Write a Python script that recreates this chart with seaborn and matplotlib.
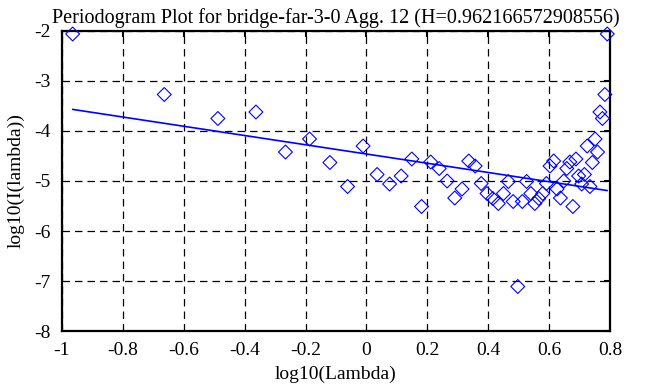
import numpy as np
import pandas as pd
import seaborn as sns
from matplotlib import pyplot as plt

title = 'Periodogram Plot for bridge-far-3-0 Agg. 12 (H=0.962166572908556)'
hurst = 0.962166572908556
fit_intercept = -4.46

log_lambda = [-0.965, -0.664, -0.488, -0.363, -0.266, -0.187, -0.120, -0.062,
              -0.011, 0.035, 0.076, 0.114, 0.149, 0.181, 0.211, 0.239,
              0.265, 0.290, 0.314, 0.336, 0.357, 0.377, 0.396, 0.415,
              0.433, 0.450, 0.466, 0.482, 0.497, 0.512, 0.526, 0.540,
              0.553, 0.566, 0.579, 0.591, 0.603, 0.615, 0.626, 0.637,
              0.648, 0.658, 0.668, 0.678, 0.688, 0.697, 0.707, 0.716,
              0.725, 0.734, 0.742, 0.751, 0.759, 0.767, 0.775, 0.783, 0.791]
log_power = [-2.06, -3.27, -3.75, -3.62, -4.42, -4.16, -4.63, -5.11,
             -4.30, -4.87, -5.06, -4.90, -4.56, -5.51, -4.62, -4.75,
             -5.00, -5.34, -5.16, -4.60, -4.70, -5.05, -5.25, -5.35,
             -5.45, -5.25, -5.01, -5.41, -7.11, -5.41, -5.01, -5.25,
             -5.45, -5.35, -5.25, -5.05, -4.70, -4.60, -5.16, -5.34,
             -5.00, -4.75, -4.62, -5.51, -4.56, -4.90, -5.06, -4.87,
             -4.30, -5.11, -4.63, -4.16, -4.42, -3.62, -3.75, -3.27, -2.06]

x_ticks = [-1, -0.8, -0.6, -0.4, -0.2, 0, 0.2, 0.4, 0.6, 0.8]
x_tick_labels = ['-1', '-0.8', '-0.6', '-0.4', '-0.2', '0', '0.2', '0.4', '0.6', '0.8']
y_ticks = [-8, -7, -6, -5, -4, -3, -2]
y_tick_labels = ['-8', '-7', '-6', '-5', '-4', '-3', '-2']

sns.set_theme(style='white')
plt.rcParams['font.family'] = ['Liberation Serif', 'DejaVu Serif']

df = pd.DataFrame({'x': log_lambda, 'y': log_power})

# least squares fit line, slope from H
slope = 1 - 2 * hurst
fit_x = [min(log_lambda), max(log_lambda)]
fit = pd.DataFrame({'x': fit_x, 'y': [fit_intercept + slope * v for v in fit_x]})

fig = plt.figure(figsize=(6.68, 3.87), dpi=100)
ax = fig.add_axes([0.0928, 0.1447, 0.8204, 0.7752])

sns.lineplot(data=fit, x='x', y='y', ax=ax, color='#0000ff', linewidth=1.2, zorder=3)
sns.scatterplot(data=df, x='x', y='y', ax=ax, marker='D', s=50,
                facecolors='none', edgecolor='#0000ff', linewidth=0.8,
                clip_on=False, zorder=4)

ax.set_xlim(-1, 0.8)
ax.set_ylim(-8, -2)
ax.set_xticks(x_ticks)
ax.set_xticklabels(x_tick_labels)
ax.set_yticks(y_ticks)
ax.set_yticklabels(y_tick_labels)
ax.grid(True, color='black', linestyle=(0, (6, 4)), linewidth=0.9)
ax.set_axisbelow(True)
for s in ax.spines.values():
    s.set_visible(True)
    s.set_color('black')
    s.set_linewidth(1.6)
ax.tick_params(direction='in', length=4, width=1.5, color='black',
               top=True, right=True, labelsize=14, labelcolor='black')
ax.tick_params(axis='x', pad=8)
ax.tick_params(axis='y', pad=8)
ax.set_xlabel('log10(Lambda)', fontsize=14, color='black', labelpad=5)
ax.set_ylabel('log10(I(lambda))', fontsize=14, color='black', labelpad=7)
ax.set_title(title, fontsize=14.5, color='black', pad=6)

fig.savefig('out.png', dpi=100)
